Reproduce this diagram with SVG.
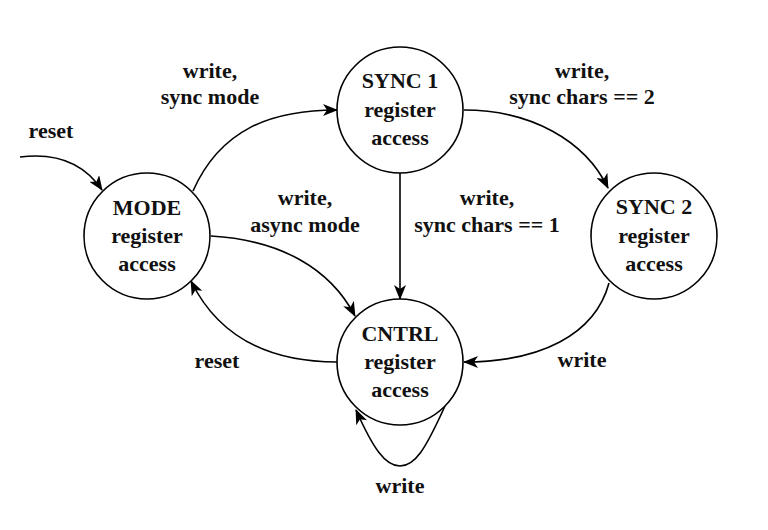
<svg xmlns="http://www.w3.org/2000/svg" width="768" height="530" viewBox="0 0 768 530">
<style>
  .node circle { fill: #fff; stroke: #000; stroke-width: 1.6; }
  text { font-family: "Liberation Serif", "DejaVu Serif", serif; font-weight: bold; fill: #111; text-anchor: middle; }
  .nt { font-size: 22px; }
  .lt { font-size: 22px; }
  .edges path { fill: none; stroke: #000; stroke-width: 1.6; marker-end: url(#arr); }
</style>
<defs>
  <marker id="arr" viewBox="0 0 15 12" refX="14" refY="6" markerWidth="15" markerHeight="12" markerUnits="userSpaceOnUse" orient="auto">
    <path d="M0,0 L15,6 L0,12 L4,6 z" fill="#000"/>
  </marker>
</defs>
<rect width="768" height="530" fill="#fff"/>
<g class="edges" id="connectors">
  <path d="M20,157 Q75,150 102,190"/>
  <path d="M193,191 C220,130 270,110 337,110"/>
  <path d="M211,236 C280,240 330,268 355,316"/>
  <path d="M400,173 L400,299"/>
  <path d="M464,110 C530,110 585,140 608,188"/>
  <path d="M609,283 C595,335 540,362 464,362"/>
  <path d="M337,362 C260,362 215,330 191,281"/>
  <path d="M445,406 C425,450 415,466 400,466 C385,466 373,448 356,410"/>
</g>
<g id="labels">
  <text class="lt" x="51" y="138">reset</text>
  <text class="lt" x="210" y="78">write,</text>
  <text class="lt" x="210" y="104">sync mode</text>
  <text class="lt" x="305" y="205">write,</text>
  <text class="lt" x="305" y="232">async mode</text>
  <text class="lt" x="487" y="205">write,</text>
  <text class="lt" x="487" y="232">sync chars == 1</text>
  <text class="lt" x="582" y="78">write,</text>
  <text class="lt" x="582" y="104">sync chars == 2</text>
  <text class="lt" x="582" y="367">write</text>
  <text class="lt" x="217" y="368">reset</text>
  <text class="lt" x="400" y="493">write</text>
</g>
<g class="node" id="mode">
  <circle cx="147" cy="236" r="63"/>
  <text class="nt" x="147" y="215">MODE</text>
  <text class="nt" x="147" y="243">register</text>
  <text class="nt" x="147" y="271">access</text>
</g>
<g class="node" id="sync1">
  <circle cx="400" cy="110" r="63"/>
  <text class="nt" x="400" y="88">SYNC 1</text>
  <text class="nt" x="400" y="117">register</text>
  <text class="nt" x="400" y="145">access</text>
</g>
<g class="node" id="sync2">
  <circle cx="654" cy="236" r="63"/>
  <text class="nt" x="654" y="214">SYNC 2</text>
  <text class="nt" x="654" y="243">register</text>
  <text class="nt" x="654" y="271">access</text>
</g>
<g class="node" id="cntrl">
  <circle cx="400" cy="362" r="63"/>
  <text class="nt" x="400" y="341">CNTRL</text>
  <text class="nt" x="400" y="369">register</text>
  <text class="nt" x="400" y="397">access</text>
</g>
</svg>
